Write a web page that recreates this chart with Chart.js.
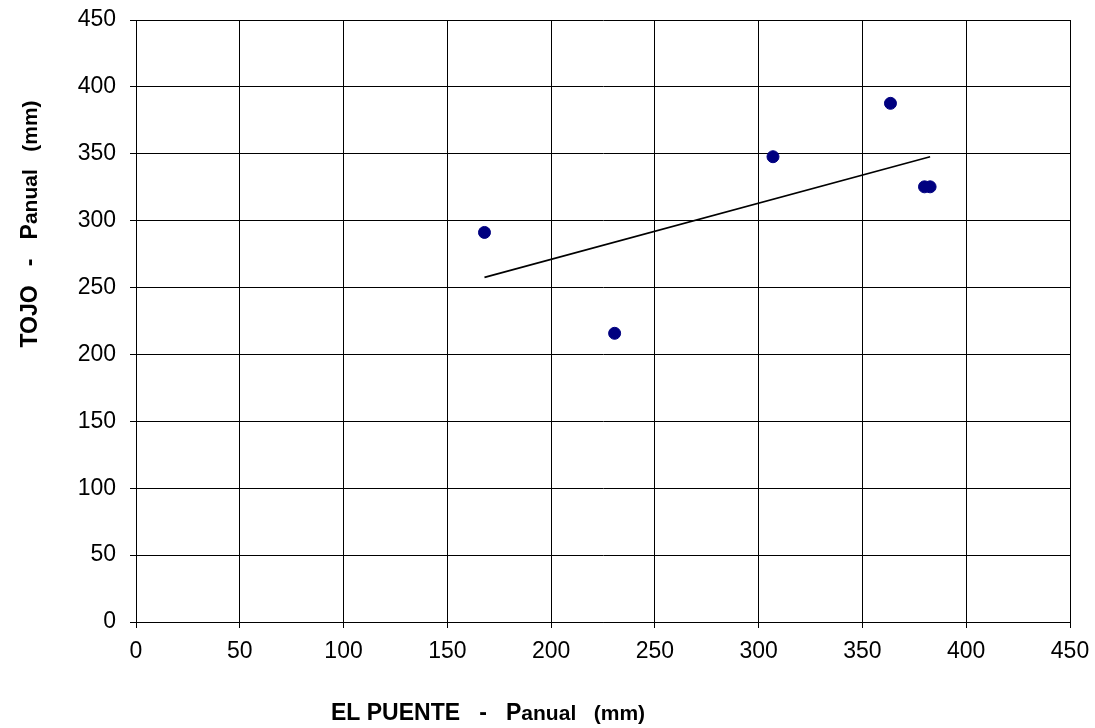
<!DOCTYPE html>
<html>
<head>
<meta charset="utf-8">
<script src="https://cdn.jsdelivr.net/npm/chart.js@4/dist/chart.umd.min.js"></script>
<style>
  html, body { margin: 0; padding: 0; background: #fff; }
  #wrap { width: 1095px; height: 728px; }
</style>
</head>
<body>
<div id="wrap"><canvas id="chart" width="1095" height="728"></canvas></div>
<script>
// annual rainfall, El Puente (x) vs Tojo (y), mm
var puente = [167.9, 230.6, 306.9, 363.5, 379.9, 382.6];
var tojo   = [291.2, 215.8, 347.8, 387.7, 325.3, 325.3];

// linear trend line ends
var trendX = [167.9, 382.6];
var trendY = [257.6, 347.8];

var axisMin = 0, axisMax = 450, axisStep = 50;

// axis titles: [text, small?] pieces, the "anual" part is set smaller like in Excel
var xTitle = [["EL PUENTE   -   P", false], ["anual   (mm)", true]];
var yTitle = [["TOJO   -   P", false], ["anual   (mm)", true]];

function toPoints(xs, ys) {
    var pts = [];
    for (var i = 0; i < xs.length; i++) pts.push({x: xs[i], y: ys[i]});
    return pts;
}

var bigFont = 'bold 23px "Liberation Sans", Arial, sans-serif';
var smallFont = 'bold 21px "Liberation Sans", Arial, sans-serif';

function drawPieces(ctx, pieces, cx, cy, angle) {
    ctx.save();
    ctx.translate(cx, cy);
    ctx.rotate(angle);
    var total = 0;
    pieces.forEach(function (p) {
        ctx.font = p[1] ? smallFont : bigFont;
        total += ctx.measureText(p[0]).width;
    });
    var x = -total / 2;
    ctx.fillStyle = '#000';
    ctx.textBaseline = 'alphabetic';
    ctx.textAlign = 'left';
    pieces.forEach(function (p) {
        ctx.font = p[1] ? smallFont : bigFont;
        ctx.fillText(p[0], x, 0);
        x += ctx.measureText(p[0]).width;
    });
    ctx.restore();
}

var axisTitles = {
    id: 'axisTitles',
    afterDraw: function (chart) {
        var ctx = chart.ctx;
        drawPieces(ctx, xTitle, 488, 720, 0);
        drawPieces(ctx, yTitle, 37, 224, -Math.PI / 2);
    }
};

var tickFont = { family: '"Liberation Sans", Arial, sans-serif', size: 23 };

new Chart(document.getElementById('chart'), {
    type: 'scatter',
    data: {
        datasets: [{
            data: toPoints(puente, tojo),
            backgroundColor: '#000080',
            borderColor: '#000080',
            pointRadius: 6,
            pointHoverRadius: 6,
            order: 1
        }, {
            data: toPoints(trendX, trendY),
            showLine: true,
            borderColor: '#000',
            borderWidth: 1.6,
            pointRadius: 0,
            order: 2
        }]
    },
    options: {
        responsive: false,
        animation: false,
        layout: { padding: { left: 0, top: 20, right: 25, bottom: 0 } },
        plugins: {
            legend: { display: false },
            tooltip: { enabled: false }
        },
        scales: {
            x: {
                type: 'linear',
                min: axisMin, max: axisMax,
                afterFit: function (scale) {
                    scale.height = 106;
                    scale.paddingLeft = 0;
                    scale.paddingRight = 0;
                },
                ticks: { stepSize: axisStep, color: '#000', font: tickFont, padding: 10, maxRotation: 0 },
                grid: { color: '#000', lineWidth: 1, tickLength: 6, tickColor: '#000' },
                border: { color: '#000', width: 1 }
            },
            y: {
                type: 'linear',
                min: axisMin, max: axisMax,
                afterFit: function (scale) {
                    scale.width = 136;
                    scale.paddingTop = 0;
                    scale.paddingBottom = 0;
                },
                ticks: { stepSize: axisStep, color: '#000', font: tickFont, padding: 14 },
                grid: { color: '#000', lineWidth: 1, tickLength: 6, tickColor: '#000' },
                border: { color: '#000', width: 1 }
            }
        }
    },
    plugins: [axisTitles]
});
</script>
</body>
</html>
